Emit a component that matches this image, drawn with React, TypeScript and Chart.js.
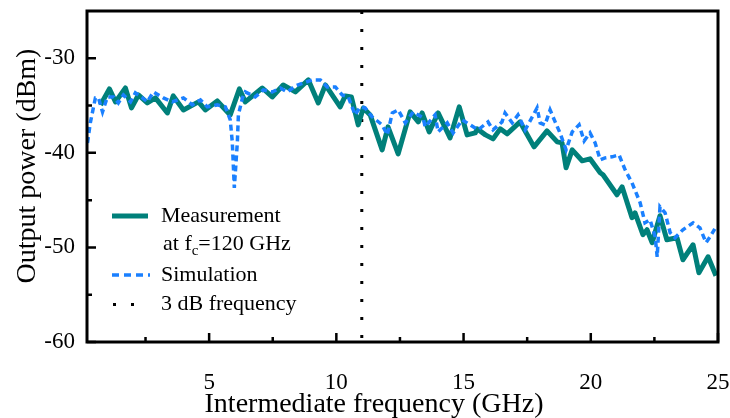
import React, { useEffect, useRef } from "react";
import { Chart, registerables } from "chart.js";
Chart.register(...registerables);

const measFreq = [0.73,1.08,1.32,1.71,1.95,2.22,2.57,2.89,3.36,3.59,3.99,4.58,4.85,5.32,5.83,6.19,6.42,7.09,7.48,7.91,8.39,8.90,9.29,9.57,10.15,10.35,10.59,10.86,11.06,11.33,11.80,12.03,12.43,12.90,13.22,13.37,13.65,14.00,14.47,14.83,15.14,15.46,15.53,15.86,16.16,16.44,16.71,17.22,17.77,18.28,18.68,18.87,19.03,19.27,19.66,19.97,20.37,20.48,21.03,21.23,21.62,21.74,22.05,22.21,22.41,22.72,22.99,23.39,23.62,24.02,24.25,24.61,24.92];
const measPower = [-34.93,-33.24,-34.61,-33.14,-35.25,-33.88,-34.72,-34.19,-35.78,-33.98,-35.46,-34.61,-35.46,-34.51,-35.99,-33.24,-34.61,-33.14,-34.09,-32.82,-33.56,-32.29,-34.72,-32.82,-35.14,-33.98,-34.09,-37.04,-35.25,-35.99,-39.68,-37.25,-40.11,-35.67,-36.73,-35.78,-37.78,-35.78,-38.42,-35.14,-38.10,-37.89,-37.46,-38.10,-38.52,-37.46,-37.99,-36.73,-39.37,-37.68,-38.84,-38.94,-41.58,-39.68,-40.84,-40.63,-42.11,-42.32,-44.43,-43.59,-46.86,-46.34,-48.66,-48.13,-49.50,-46.65,-49.19,-48.98,-51.30,-49.72,-52.68,-50.99,-52.99];

const simFreq = [0.22,0.33,0.53,0.65,0.81,1.00,1.24,1.43,1.63,1.91,2.10,2.38,2.57,2.81,3.20,3.55,3.99,4.34,4.66,4.93,5.32,5.64,5.83,5.91,5.99,6.11,6.15,6.31,6.42,6.81,7.13,7.48,7.80,8.07,8.39,8.70,9.05,9.37,9.64,9.96,10.23,10.47,10.74,10.94,11.13,11.41,11.80,12.00,12.20,12.43,12.71,13.02,13.41,13.49,13.88,14.00,14.36,14.59,14.95,15.26,15.57,15.96,16.16,16.51,16.63,16.91,17.14,17.42,17.70,17.89,18.01,18.20,18.40,18.60,18.79,19.03,19.27,19.54,19.74,19.97,20.17,20.37,20.56,20.84,21.11,21.35,21.62,21.94,22.13,22.33,22.53,22.61,22.72,22.92,23.12,23.31,23.62,24.02,24.29,24.53,24.69,24.92];
const simPower = [-38.95,-36.83,-34.19,-34.19,-35.67,-34.09,-34.09,-34.72,-33.88,-34.61,-33.66,-34.19,-34.61,-33.56,-34.19,-34.61,-34.19,-34.93,-34.40,-35.14,-34.93,-35.14,-36.51,-38.84,-43.70,-38.84,-35.99,-34.19,-33.56,-34.09,-33.35,-33.56,-33.14,-33.56,-32.93,-32.61,-32.29,-32.29,-33.03,-33.03,-33.88,-34.09,-35.99,-35.14,-35.25,-36.20,-37.04,-38.10,-35.78,-35.46,-36.83,-35.67,-36.30,-37.25,-35.99,-37.78,-36.83,-37.89,-36.51,-37.04,-37.57,-36.73,-37.57,-36.73,-35.78,-36.83,-35.99,-37.57,-36.20,-35.25,-36.83,-37.04,-35.46,-36.73,-37.89,-39.68,-37.78,-37.04,-38.73,-37.89,-38.94,-40.74,-40.53,-40.42,-40.21,-41.80,-43.17,-45.28,-47.40,-47.08,-48.88,-50.99,-45.70,-46.34,-48.45,-48.98,-48.13,-47.40,-47.93,-49.50,-48.88,-47.82];

const cutoffFreq = 11;
const xRange = [0.2, 25];
const yRange = [-60, -25];
const xTicks = [5, 10, 15, 20, 25];
const xMinorTicks = [2.5, 7.5, 12.5, 17.5, 22.5];
const yTicks = [-60, -50, -40, -30];
const yMinorTicks = [-55, -45, -35];

const xTitle = "Intermediate frequency (GHz)";
const yTitle = "Output power (dBm)";
const legendMeas = "Measurement";
const legendMeas2a = "at f";
const legendMeas2sub = "c";
const legendMeas2b = "=120 GHz";
const legendSim = "Simulation";
const legend3dB = "3 dB frequency";

const TEAL = "#00807a";
const BLUE = "#1a80ff";
const FONT = "'Liberation Serif', 'Times New Roman', serif";

const decorPlugin = {
  id: "decor",
  afterDatasetsDraw(chart: any) {
    const { ctx, chartArea, scales } = chart;
    const { left, right, top, bottom } = chartArea;
    const xs = scales.x;
    const ys = scales.y;
    ctx.save();
    ctx.strokeStyle = "#000";
    ctx.lineWidth = 3;
    ctx.lineCap = "butt";
    ctx.strokeRect(left, top, right - left, bottom - top);
    // inward ticks
    ctx.lineWidth = 2.5;
    ctx.beginPath();
    xTicks.forEach((v) => {
      const px = xs.getPixelForValue(v);
      ctx.moveTo(px, bottom);
      ctx.lineTo(px, bottom - 9);
    });
    xMinorTicks.forEach((v) => {
      const px = xs.getPixelForValue(v);
      ctx.moveTo(px, bottom);
      ctx.lineTo(px, bottom - 5);
    });
    yTicks.forEach((v) => {
      const py = ys.getPixelForValue(v);
      ctx.moveTo(left, py);
      ctx.lineTo(left + 9, py);
    });
    yMinorTicks.forEach((v) => {
      const py = ys.getPixelForValue(v);
      ctx.moveTo(left, py);
      ctx.lineTo(left + 5, py);
    });
    ctx.stroke();

    // legend
    const lx0 = 112, lx1 = 148, tx = 161;
    ctx.lineWidth = 5;
    ctx.strokeStyle = TEAL;
    ctx.beginPath();
    ctx.moveTo(lx0, 216);
    ctx.lineTo(lx1, 216);
    ctx.stroke();
    ctx.lineWidth = 3.5;
    ctx.strokeStyle = BLUE;
    ctx.setLineDash([7, 5]);
    ctx.beginPath();
    ctx.moveTo(lx0, 275);
    ctx.lineTo(lx1 + 2, 275);
    ctx.stroke();
    ctx.setLineDash([]);
    ctx.fillStyle = "#000";
    ctx.fillRect(113, 303, 3, 3);
    ctx.fillRect(131, 303, 3, 3);

    ctx.fillStyle = "#000";
    ctx.textBaseline = "middle";
    ctx.textAlign = "left";
    ctx.font = `22px ${FONT}`;
    ctx.fillText(legendMeas, tx, 216);
    ctx.fillText(legendMeas2a, tx + 2, 244);
    const w1 = ctx.measureText(legendMeas2a).width;
    ctx.font = `15px ${FONT}`;
    ctx.fillText(legendMeas2sub, tx + 2 + w1, 251);
    const w2 = ctx.measureText(legendMeas2sub).width;
    ctx.font = `22px ${FONT}`;
    ctx.fillText(legendMeas2b, tx + 2 + w1 + w2, 244);
    ctx.fillText(legendSim, tx, 275);
    ctx.fillText(legend3dB, tx, 304);

    // axis titles
    ctx.font = `28px ${FONT}`;
    ctx.textAlign = "center";
    ctx.fillText(xTitle, 374, 405);
    ctx.save();
    ctx.translate(28, 166);
    ctx.rotate(-Math.PI / 2);
    ctx.fillText(yTitle, 0, 0);
    ctx.restore();
    ctx.restore();
  },
};

export default function App() {
  const ref = useRef<HTMLCanvasElement | null>(null);
  useEffect(() => {
    if (!ref.current) return;
    const chart = new Chart(ref.current, {
      type: "line",
      data: {
        datasets: [
          {
            label: "Simulation",
            data: simFreq.map((x, i) => ({ x, y: simPower[i] })),
            borderColor: BLUE,
            borderWidth: 3.5,
            borderDash: [6, 4],
            pointRadius: 0,
            tension: 0,
            fill: false,
          },
          {
            label: "Measurement",
            data: measFreq.map((x, i) => ({ x, y: measPower[i] })),
            borderColor: TEAL,
            borderWidth: 5,
            borderJoinStyle: "round",
            pointRadius: 0,
            tension: 0,
            fill: false,
          },
          {
            label: "3 dB frequency",
            data: [
              { x: cutoffFreq, y: yRange[1] },
              { x: cutoffFreq, y: yRange[0] },
            ],
            borderColor: "#000",
            borderWidth: 3,
            borderDash: [3, 15],
            borderCapStyle: "butt",
            pointRadius: 0,
            fill: false,
          },
        ],
      },
      options: {
        animation: false,
        responsive: true,
        maintainAspectRatio: false,
        devicePixelRatio: 1,
        layout: { padding: { left: 0, right: 12, top: 11, bottom: 0 } },
        plugins: { legend: { display: false }, tooltip: { enabled: false } },
        scales: {
          x: {
            type: "linear",
            min: xRange[0],
            max: xRange[1],
            grid: { display: false, drawTicks: false },
            border: { display: false },
            afterBuildTicks: (s: any) => {
              s.ticks = xTicks.map((v) => ({ value: v }));
            },
            afterFit: (s: any) => {
              s.height = 76;
              s.paddingLeft = 0;
              s.paddingRight = 0;
            },
            ticks: {
              color: "#000",
              font: { family: FONT, size: 23 },
              padding: 27,
              maxRotation: 0,
              callback: (v: any) => String(v),
            },
          },
          y: {
            type: "linear",
            min: yRange[0],
            max: yRange[1],
            grid: { display: false, drawTicks: false },
            border: { display: false },
            afterBuildTicks: (s: any) => {
              s.ticks = yTicks.map((v) => ({ value: v }));
            },
            afterFit: (s: any) => {
              s.width = 87;
              s.paddingTop = 0;
              s.paddingBottom = 0;
            },
            ticks: {
              color: "#000",
              font: { family: FONT, size: 23 },
              padding: 12,
              callback: (v: any) => String(v),
            },
          },
        },
      },
      plugins: [decorPlugin],
    } as any);
    return () => chart.destroy();
  }, []);
  return (
    <div style={{ position: "absolute", left: 0, top: 0, width: 730, height: 418, background: "#fff" }}>
      <canvas ref={ref} />
    </div>
  );
}
